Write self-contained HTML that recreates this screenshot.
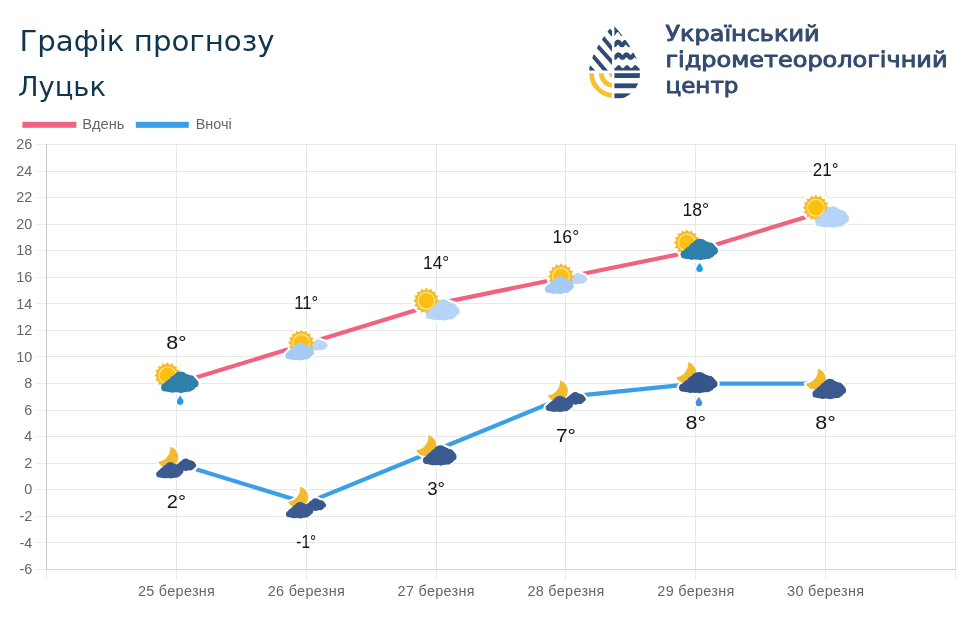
<!DOCTYPE html>
<html lang="uk"><head><meta charset="utf-8"><title>Графік прогнозу</title>
<style>
html,body{margin:0;padding:0;background:#fff}
body{width:969px;height:617px;overflow:hidden;position:relative;font-family:"Liberation Sans",sans-serif}
svg{position:absolute;left:0;top:0;display:block}
.t1{font-family:"DejaVu Sans","Liberation Sans",sans-serif;font-size:28px;fill:#10354f}
.t2{font-family:"DejaVu Sans","Liberation Sans",sans-serif;font-size:25.8px;fill:#10354f}
.lg{font-family:"DejaVu Sans","Liberation Sans",sans-serif;font-size:20.8px;fill:#334b6e;stroke:#334b6e;stroke-width:0.9px;stroke-linejoin:round}
.ax{font-family:"Liberation Sans",sans-serif;font-size:14.4px;fill:#666}
.dl{font-family:"Liberation Sans",sans-serif;font-size:18px;fill:#151515;text-anchor:middle}
</style></head><body>
<svg width="969" height="617" viewBox="0 0 969 617">
<defs>
<clipPath id="drop"><path d="M613 25 C604 35 588.8 57 588.8 74 A25.6 25.6 0 0 0 640 74 C640 57 623 35 613 25 Z"/></clipPath>
<clipPath id="qTL"><rect x="580" y="20" width="32" height="50.5"/></clipPath>
<clipPath id="qTR"><rect x="614.4" y="20" width="32" height="60"/></clipPath>
<clipPath id="qBL"><rect x="580" y="73.2" width="32" height="30"/></clipPath>
<clipPath id="qBR"><rect x="614.4" y="60" width="32" height="45"/></clipPath>
<g id="sun">
<circle r="11" fill="#f7ba2b"/>
<g fill="#f7ba2b"><path d="M10.41 -2.00 L13.30 0.00 L10.41 2.00Z"/><path d="M10.38 2.13 L12.29 5.09 L8.85 5.83Z"/><path d="M8.78 5.94 L9.40 9.40 L5.94 8.78Z"/><path d="M5.83 8.85 L5.09 12.29 L2.13 10.38Z"/><path d="M2.00 10.41 L0.00 13.30 L-2.00 10.41Z"/><path d="M-2.13 10.38 L-5.09 12.29 L-5.83 8.85Z"/><path d="M-5.94 8.78 L-9.40 9.40 L-8.78 5.94Z"/><path d="M-8.85 5.83 L-12.29 5.09 L-10.38 2.13Z"/><path d="M-10.41 2.00 L-13.30 0.00 L-10.41 -2.00Z"/><path d="M-10.38 -2.13 L-12.29 -5.09 L-8.85 -5.83Z"/><path d="M-8.78 -5.94 L-9.40 -9.40 L-5.94 -8.78Z"/><path d="M-5.83 -8.85 L-5.09 -12.29 L-2.13 -10.38Z"/><path d="M-2.00 -10.41 L-0.00 -13.30 L2.00 -10.41Z"/><path d="M2.13 -10.38 L5.09 -12.29 L5.83 -8.85Z"/><path d="M5.94 -8.78 L9.40 -9.40 L8.78 -5.94Z"/><path d="M8.85 -5.83 L12.29 -5.09 L10.38 -2.13Z"/></g>
<circle r="9" fill="#ffe99a"/>
<circle r="7.8" fill="#fdc010"/>
</g>
<g id="cloud">
<circle cx="-14.9" cy="5.35" r="4.1"/><circle cx="-9" cy="1.9" r="5.3"/><circle cx="0.7" cy="-2.4" r="8.3"/>
<circle cx="10.9" cy="-1.9" r="4.9"/><circle cx="14.8" cy="1.5" r="4.1"/><circle cx="-7.6" cy="6.3" r="4.4"/>
<circle cx="1.2" cy="6.3" r="4.7"/><circle cx="8.9" cy="5.4" r="4.4"/><rect x="-14" y="0" width="28" height="8"/>
<circle cx="-12" cy="3.6" r="4.6"/><circle cx="-4.5" cy="-0.5" r="6.5"/><circle cx="6.5" cy="-2.2" r="6"/>
<circle cx="13" cy="-0.2" r="4.4"/><circle cx="-11.2" cy="5.9" r="4.1"/><circle cx="-3.2" cy="6.3" r="4.3"/>
<circle cx="5" cy="5.9" r="4.3"/><circle cx="12" cy="3.6" r="4.2"/>
</g>
<path id="moon" d="M2.7 -10.3 A10.65 10.65 0 1 1 -9.5 4.8 A13.9 13.9 0 0 0 2.7 -10.3 Z"/>
<path id="rdrop" d="M0 -4.7 C0.9 -2.6 3.3 -0.6 3.3 1.4 A3.3 3.3 0 0 1 -3.3 1.4 C-3.3 -0.6 -0.9 -2.6 0 -4.7 Z"/>
</defs>

<text class="t1" x="19.5" y="50.6" textLength="255" lengthAdjust="spacingAndGlyphs">Графік прогнозу</text>
<text class="t2" x="18" y="95.8" textLength="88" lengthAdjust="spacingAndGlyphs">Луцьк</text>
<g clip-path="url(#drop)">
<g clip-path="url(#qTL)" stroke="#2f4a73" stroke-width="4"><line x1="581.50" y1="-0.30" x2="621.50" y2="44.50"/><line x1="581.80" y1="12.60" x2="621.80" y2="60.20"/><line x1="581.80" y1="28.70" x2="621.80" y2="72.70"/><line x1="575.10" y1="34.89" x2="615.10" y2="81.97"/><line x1="562.50" y1="38.50" x2="602.50" y2="81.30"/></g>
<g clip-path="url(#qTR)" fill="none" stroke="#2f4a73" stroke-width="4.5"><path d="M608.3 34.0 q1.900 -4.00 3.800 0 q1.900 4.00 3.800 0 q1.900 -4.00 3.800 0 q1.900 4.00 3.800 0 q1.900 -4.00 3.800 0 q1.900 4.00 3.800 0 q1.900 -4.00 3.800 0 q1.900 4.00 3.800 0 q1.900 -4.00 3.800 0 q1.900 4.00 3.800 0 L650 20 L608 20 Z" fill="#2f4a73" stroke="none"/><path d="M608.3 43.4 q1.950 -3.20 3.900 0 q1.950 3.20 3.900 0 q1.950 -3.20 3.900 0 q1.950 3.20 3.900 0 q1.950 -3.20 3.900 0 q1.950 3.20 3.900 0 q1.950 -3.20 3.900 0 q1.950 3.20 3.900 0 q1.950 -3.20 3.900 0 q1.950 3.20 3.900 0"/><path d="M608.3 56.1 q2.025 -3.20 4.050 0 q2.025 3.20 4.050 0 q2.025 -3.20 4.050 0 q2.025 3.20 4.050 0 q2.025 -3.20 4.050 0 q2.025 3.20 4.050 0 q2.025 -3.20 4.050 0 q2.025 3.20 4.050 0 q2.025 -3.20 4.050 0 q2.025 3.20 4.050 0"/></g>
<g clip-path="url(#qBR)" fill="#2f4a73"><path d="M608.3 66.4 q2.075 -3.00 4.150 0 q2.075 3.00 4.150 0 q2.075 -3.00 4.150 0 q2.075 3.00 4.150 0 q2.075 -3.00 4.150 0 q2.075 3.00 4.150 0 q2.075 -3.00 4.150 0 q2.075 3.00 4.150 0 q2.075 -3.00 4.150 0 q2.075 3.00 4.150 0 L650 70.5 L608 70.5 Z"/><rect x="612" y="73.2" width="34" height="4.8"/><rect x="612" y="83.4" width="34" height="4.8"/><rect x="612" y="93.4" width="34" height="4.8"/></g>
<g clip-path="url(#qBL)" fill="none" stroke="#f6c22f" stroke-width="4.75"><circle cx="613.6" cy="73.2" r="12.25"/><circle cx="613.6" cy="73.2" r="22.1"/><circle cx="613.6" cy="73.2" r="2.4" /></g>
</g>
<text class="lg" x="665.5" y="41.4" textLength="154" lengthAdjust="spacingAndGlyphs">Український</text>
<text class="lg" x="665.5" y="67.2" textLength="282" lengthAdjust="spacingAndGlyphs">гідрометеорологічний</text>
<text class="lg" x="665.5" y="93.1" textLength="73" lengthAdjust="spacingAndGlyphs">центр</text>
<rect x="22.4" y="121.8" width="54" height="6" fill="#f0627f"/>
<text class="ax" x="82.3" y="129" textLength="42.2" lengthAdjust="spacingAndGlyphs">Вдень</text>
<rect x="135.8" y="121.8" width="53" height="6" fill="#3a9fe5"/>
<text class="ax" x="195.7" y="129">Вночі</text>
<g shape-rendering="crispEdges" stroke-width="1"><line x1="36" x2="46.5" y1="144.5" y2="144.5" stroke="#eeeeee"/><line x1="46.5" x2="956.0" y1="144.5" y2="144.5" stroke="#e7e7e7"/><line x1="36" x2="46.5" y1="171.5" y2="171.5" stroke="#eeeeee"/><line x1="46.5" x2="956.0" y1="171.5" y2="171.5" stroke="#e7e7e7"/><line x1="36" x2="46.5" y1="197.5" y2="197.5" stroke="#eeeeee"/><line x1="46.5" x2="956.0" y1="197.5" y2="197.5" stroke="#e7e7e7"/><line x1="36" x2="46.5" y1="224.5" y2="224.5" stroke="#eeeeee"/><line x1="46.5" x2="956.0" y1="224.5" y2="224.5" stroke="#e7e7e7"/><line x1="36" x2="46.5" y1="250.5" y2="250.5" stroke="#eeeeee"/><line x1="46.5" x2="956.0" y1="250.5" y2="250.5" stroke="#e7e7e7"/><line x1="36" x2="46.5" y1="277.5" y2="277.5" stroke="#eeeeee"/><line x1="46.5" x2="956.0" y1="277.5" y2="277.5" stroke="#e7e7e7"/><line x1="36" x2="46.5" y1="303.5" y2="303.5" stroke="#eeeeee"/><line x1="46.5" x2="956.0" y1="303.5" y2="303.5" stroke="#e7e7e7"/><line x1="36" x2="46.5" y1="330.5" y2="330.5" stroke="#eeeeee"/><line x1="46.5" x2="956.0" y1="330.5" y2="330.5" stroke="#e7e7e7"/><line x1="36" x2="46.5" y1="356.5" y2="356.5" stroke="#eeeeee"/><line x1="46.5" x2="956.0" y1="356.5" y2="356.5" stroke="#e7e7e7"/><line x1="36" x2="46.5" y1="383.5" y2="383.5" stroke="#eeeeee"/><line x1="46.5" x2="956.0" y1="383.5" y2="383.5" stroke="#e7e7e7"/><line x1="36" x2="46.5" y1="410.5" y2="410.5" stroke="#eeeeee"/><line x1="46.5" x2="956.0" y1="410.5" y2="410.5" stroke="#e7e7e7"/><line x1="36" x2="46.5" y1="436.5" y2="436.5" stroke="#eeeeee"/><line x1="46.5" x2="956.0" y1="436.5" y2="436.5" stroke="#e7e7e7"/><line x1="36" x2="46.5" y1="463.5" y2="463.5" stroke="#eeeeee"/><line x1="46.5" x2="956.0" y1="463.5" y2="463.5" stroke="#e7e7e7"/><line x1="36" x2="46.5" y1="489.5" y2="489.5" stroke="#eeeeee"/><line x1="46.5" x2="956.0" y1="489.5" y2="489.5" stroke="#e7e7e7"/><line x1="36" x2="46.5" y1="516.5" y2="516.5" stroke="#eeeeee"/><line x1="46.5" x2="956.0" y1="516.5" y2="516.5" stroke="#e7e7e7"/><line x1="36" x2="46.5" y1="542.5" y2="542.5" stroke="#eeeeee"/><line x1="46.5" x2="956.0" y1="542.5" y2="542.5" stroke="#e7e7e7"/><line x1="36" x2="46.5" y1="569.5" y2="569.5" stroke="#eeeeee"/><line x1="46.5" x2="956.0" y1="569.5" y2="569.5" stroke="#e7e7e7"/><line y1="144.0" y2="569.5" x1="46.5" x2="46.5" stroke="#c9c9c9"/><line y1="569.5" y2="580" x1="46.5" x2="46.5" stroke="#eeeeee"/><line y1="144.0" y2="569.5" x1="176.5" x2="176.5" stroke="#e7e7e7"/><line y1="569.5" y2="580" x1="176.5" x2="176.5" stroke="#eeeeee"/><line y1="144.0" y2="569.5" x1="306.5" x2="306.5" stroke="#e7e7e7"/><line y1="569.5" y2="580" x1="306.5" x2="306.5" stroke="#eeeeee"/><line y1="144.0" y2="569.5" x1="436.5" x2="436.5" stroke="#e7e7e7"/><line y1="569.5" y2="580" x1="436.5" x2="436.5" stroke="#eeeeee"/><line y1="144.0" y2="569.5" x1="565.5" x2="565.5" stroke="#e7e7e7"/><line y1="569.5" y2="580" x1="565.5" x2="565.5" stroke="#eeeeee"/><line y1="144.0" y2="569.5" x1="695.5" x2="695.5" stroke="#e7e7e7"/><line y1="569.5" y2="580" x1="695.5" x2="695.5" stroke="#eeeeee"/><line y1="144.0" y2="569.5" x1="825.5" x2="825.5" stroke="#e7e7e7"/><line y1="569.5" y2="580" x1="825.5" x2="825.5" stroke="#eeeeee"/><line y1="144.0" y2="569.5" x1="955.5" x2="955.5" stroke="#e7e7e7"/><line y1="569.5" y2="580" x1="955.5" x2="955.5" stroke="#eeeeee"/><line x1="46.5" x2="956.0" y1="569.5" y2="569.5" stroke="#d2d2d2"/></g>
<text class="ax" text-anchor="end" x="32.2" y="149.1">26</text>
<text class="ax" text-anchor="end" x="32.2" y="175.7">24</text>
<text class="ax" text-anchor="end" x="32.2" y="202.2">22</text>
<text class="ax" text-anchor="end" x="32.2" y="228.8">20</text>
<text class="ax" text-anchor="end" x="32.2" y="255.3">18</text>
<text class="ax" text-anchor="end" x="32.2" y="281.9">16</text>
<text class="ax" text-anchor="end" x="32.2" y="308.5">14</text>
<text class="ax" text-anchor="end" x="32.2" y="335.0">12</text>
<text class="ax" text-anchor="end" x="32.2" y="361.6">10</text>
<text class="ax" text-anchor="end" x="32.2" y="388.2">8</text>
<text class="ax" text-anchor="end" x="32.2" y="414.7">6</text>
<text class="ax" text-anchor="end" x="32.2" y="441.3">4</text>
<text class="ax" text-anchor="end" x="32.2" y="467.9">2</text>
<text class="ax" text-anchor="end" x="32.2" y="494.4">0</text>
<text class="ax" text-anchor="end" x="32.2" y="521.0">-2</text>
<text class="ax" text-anchor="end" x="32.2" y="547.5">-4</text>
<text class="ax" text-anchor="end" x="32.2" y="574.1">-6</text>
<text class="ax" text-anchor="middle" x="176.4" y="595.8" textLength="77" lengthAdjust="spacing">25 березня</text>
<text class="ax" text-anchor="middle" x="306.2" y="595.8" textLength="77" lengthAdjust="spacing">26 березня</text>
<text class="ax" text-anchor="middle" x="436.1" y="595.8" textLength="77" lengthAdjust="spacing">27 березня</text>
<text class="ax" text-anchor="middle" x="565.9" y="595.8" textLength="77" lengthAdjust="spacing">28 березня</text>
<text class="ax" text-anchor="middle" x="695.8" y="595.8" textLength="77" lengthAdjust="spacing">29 березня</text>
<text class="ax" text-anchor="middle" x="825.6" y="595.8" textLength="77" lengthAdjust="spacing">30 березня</text>
<polyline points="176.4,383.6 306.2,343.7 436.1,303.9 565.9,277.3 695.8,250.8 825.6,210.9" fill="none" stroke="#f0627f" stroke-width="4.2" stroke-linejoin="round"/>
<polyline points="176.4,463.2 306.2,503.1 436.1,450.0 565.9,396.8 695.8,383.6 825.6,383.6" fill="none" stroke="#3a9fe5" stroke-width="4.2" stroke-linejoin="round"/>
<circle cx="167.5" cy="375.4" r="14.6" fill="#fff"/><use href="#cloud" transform="translate(179.9 382.1) scale(0.987 0.990)" fill="#fff" stroke="#fff" stroke-width="4.45"/><use href="#rdrop" x="180.2" y="400.2" fill="#fff" stroke="#fff" stroke-width="2.4"/><use href="#sun" x="167.5" y="375.4"/><use href="#cloud" transform="translate(179.9 382.1) scale(0.987 0.990)" fill="#2c80aa"/><use href="#rdrop" x="180.2" y="400.2" fill="#1f9bea"/>
<text class="dl" x="176.4" y="348.8" textLength="20.5" lengthAdjust="spacingAndGlyphs">8°</text>
<use href="#cloud" transform="translate(317.8 344.9) scale(0.520 0.520)" fill="#fff" stroke="#fff" stroke-width="8.46"/><circle cx="301.3" cy="342.8" r="14.6" fill="#fff"/><use href="#cloud" transform="translate(299.6 351.3) scale(0.757 0.830)" fill="#fff" stroke="#fff" stroke-width="5.55"/><use href="#cloud" transform="translate(317.8 344.9) scale(0.520 0.520)" fill="#bcd6f8"/><use href="#sun" x="301.3" y="342.8"/><use href="#cloud" transform="translate(299.6 351.3) scale(0.757 0.830)" fill="#a7c9f5"/>
<text class="dl" x="306.2" y="308.9" textLength="24.1" lengthAdjust="spacingAndGlyphs">11°</text>
<circle cx="426.4" cy="300.8" r="14.6" fill="#fff"/><use href="#cloud" transform="translate(442.7 309.8) scale(0.887 0.986)" fill="#fff" stroke="#fff" stroke-width="4.70"/><use href="#sun" x="426.4" y="300.8"/><use href="#cloud" transform="translate(442.7 309.8) scale(0.887 0.986)" fill="#b5d4f8"/>
<text class="dl" x="436.1" y="269.1" textLength="26.1" lengthAdjust="spacingAndGlyphs">14°</text>
<use href="#cloud" transform="translate(577.5 278.5) scale(0.520 0.520)" fill="#fff" stroke="#fff" stroke-width="8.46"/><circle cx="561.0" cy="276.4" r="14.6" fill="#fff"/><use href="#cloud" transform="translate(559.3 284.9) scale(0.757 0.830)" fill="#fff" stroke="#fff" stroke-width="5.55"/><use href="#cloud" transform="translate(577.5 278.5) scale(0.520 0.520)" fill="#bcd6f8"/><use href="#sun" x="561.0" y="276.4"/><use href="#cloud" transform="translate(559.3 284.9) scale(0.757 0.830)" fill="#a7c9f5"/>
<text class="dl" x="565.9" y="242.5" textLength="26.6" lengthAdjust="spacingAndGlyphs">16°</text>
<circle cx="686.9" cy="242.6" r="14.6" fill="#fff"/><use href="#cloud" transform="translate(699.3 249.3) scale(0.987 0.990)" fill="#fff" stroke="#fff" stroke-width="4.45"/><use href="#rdrop" x="699.6" y="267.4" fill="#fff" stroke="#fff" stroke-width="2.4"/><use href="#sun" x="686.9" y="242.6"/><use href="#cloud" transform="translate(699.3 249.3) scale(0.987 0.990)" fill="#2c80aa"/><use href="#rdrop" x="699.6" y="267.4" fill="#1f9bea"/>
<text class="dl" x="695.8" y="215.9" textLength="26.6" lengthAdjust="spacingAndGlyphs">18°</text>
<circle cx="815.9" cy="207.8" r="14.6" fill="#fff"/><use href="#cloud" transform="translate(832.2 216.9) scale(0.887 0.986)" fill="#fff" stroke="#fff" stroke-width="4.70"/><use href="#sun" x="815.9" y="207.8"/><use href="#cloud" transform="translate(832.2 216.9) scale(0.887 0.986)" fill="#b5d4f8"/>
<text class="dl" x="825.6" y="176.1" textLength="25.7" lengthAdjust="spacingAndGlyphs">21°</text>
<use href="#moon" x="167.6" y="457.1" fill="#fff" stroke="#fff" stroke-width="3.8" stroke-linejoin="round"/><use href="#cloud" transform="translate(185.3 464.7) scale(0.580 0.580)" fill="#fff" stroke="#fff" stroke-width="7.59"/><use href="#cloud" transform="translate(169.8 470.2) scale(0.718 0.760)" fill="#fff" stroke="#fff" stroke-width="5.95"/><use href="#moon" x="167.6" y="457.1" fill="#f2ba2d"/><use href="#cloud" transform="translate(185.3 464.7) scale(0.580 0.580)" fill="#3a588c"/><use href="#cloud" transform="translate(169.8 470.2) scale(0.718 0.760)" fill="#3d5b90"/>
<text class="dl" x="176.4" y="508.4" textLength="19.1" lengthAdjust="spacingAndGlyphs">2°</text>
<use href="#moon" x="297.5" y="497.0" fill="#fff" stroke="#fff" stroke-width="3.8" stroke-linejoin="round"/><use href="#cloud" transform="translate(315.1 504.5) scale(0.580 0.580)" fill="#fff" stroke="#fff" stroke-width="7.59"/><use href="#cloud" transform="translate(299.6 510.1) scale(0.718 0.760)" fill="#fff" stroke="#fff" stroke-width="5.95"/><use href="#moon" x="297.5" y="497.0" fill="#f2ba2d"/><use href="#cloud" transform="translate(315.1 504.5) scale(0.580 0.580)" fill="#3a588c"/><use href="#cloud" transform="translate(299.6 510.1) scale(0.718 0.760)" fill="#3d5b90"/>
<text class="dl" x="306.2" y="548.3" textLength="19.9" lengthAdjust="spacingAndGlyphs">-1°</text>
<use href="#moon" x="425.7" y="445.4" fill="#fff" stroke="#fff" stroke-width="3.8" stroke-linejoin="round"/><use href="#cloud" transform="translate(439.8 455.3) scale(0.887 0.940)" fill="#fff" stroke="#fff" stroke-width="4.82"/><use href="#moon" x="425.7" y="445.4" fill="#f2ba2d"/><use href="#cloud" transform="translate(439.8 455.3) scale(0.887 0.940)" fill="#3b5a8f"/>
<text class="dl" x="436.1" y="495.2" textLength="17.8" lengthAdjust="spacingAndGlyphs">3°</text>
<use href="#moon" x="557.2" y="390.7" fill="#fff" stroke="#fff" stroke-width="3.8" stroke-linejoin="round"/><use href="#cloud" transform="translate(574.8 398.3) scale(0.580 0.580)" fill="#fff" stroke="#fff" stroke-width="7.59"/><use href="#cloud" transform="translate(559.3 403.8) scale(0.718 0.760)" fill="#fff" stroke="#fff" stroke-width="5.95"/><use href="#moon" x="557.2" y="390.7" fill="#f2ba2d"/><use href="#cloud" transform="translate(574.8 398.3) scale(0.580 0.580)" fill="#3a588c"/><use href="#cloud" transform="translate(559.3 403.8) scale(0.718 0.760)" fill="#3d5b90"/>
<text class="dl" x="565.9" y="442.0" textLength="20.0" lengthAdjust="spacingAndGlyphs">7°</text>
<use href="#moon" x="685.5" y="372.4" fill="#fff" stroke="#fff" stroke-width="3.8" stroke-linejoin="round"/><use href="#cloud" transform="translate(698.3 382.5) scale(1.016 0.986)" fill="#fff" stroke="#fff" stroke-width="4.40"/><use href="#rdrop" x="698.9" y="401.5" fill="#fff" stroke="#fff" stroke-width="2.4"/><use href="#moon" x="685.5" y="372.4" fill="#f2ba2d"/><use href="#cloud" transform="translate(698.3 382.5) scale(1.016 0.986)" fill="#36568b"/><use href="#rdrop" x="698.9" y="401.5" fill="#4a8ee2"/>
<text class="dl" x="695.8" y="428.8" textLength="20.5" lengthAdjust="spacingAndGlyphs">8°</text>
<use href="#moon" x="815.2" y="379.0" fill="#fff" stroke="#fff" stroke-width="3.8" stroke-linejoin="round"/><use href="#cloud" transform="translate(829.3 388.9) scale(0.887 0.940)" fill="#fff" stroke="#fff" stroke-width="4.82"/><use href="#moon" x="815.2" y="379.0" fill="#f2ba2d"/><use href="#cloud" transform="translate(829.3 388.9) scale(0.887 0.940)" fill="#3b5a8f"/>
<text class="dl" x="825.6" y="428.8" textLength="20.5" lengthAdjust="spacingAndGlyphs">8°</text>
</svg></body></html>
